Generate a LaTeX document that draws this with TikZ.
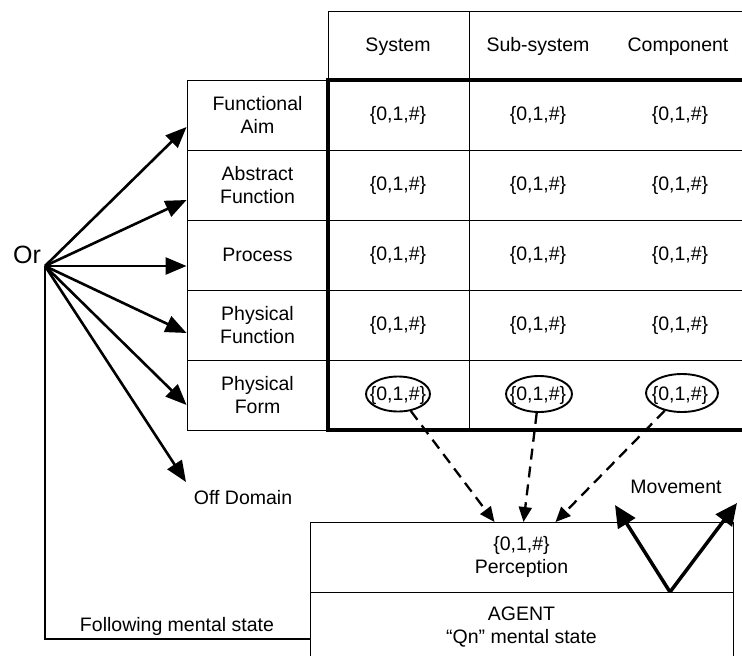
\documentclass[tikz,border=0pt]{standalone}
\usepackage{fontspec}
\setmainfont{Liberation Sans}
\usetikzlibrary{arrows.meta,shapes.geometric,calc}
\begin{document}
\begin{tikzpicture}[x=1pt,y=-1pt,
  every node/.style={font=\fontsize{19.5}{23}\selectfont, inner sep=0pt, align=center},
  headtext/.style={text height=14pt, text depth=4pt},
  gridline/.style={line width=0.9pt},
  thickborder/.style={line width=3.8pt},
  rowlabel/.style={draw, line width=0.9pt, minimum width=141pt, minimum height=70pt},
  fan/.style={line width=2.6pt, -{Triangle[length=21pt,width=17pt]}},
  percarrow/.style={line width=2.3pt, dash pattern=on 11pt off 7pt, -{Triangle[length=15pt,width=13pt]}},
  movearrow/.style={line width=3.5pt, -{Triangle[length=22pt,width=20pt]}},
  oval/.style={draw, ellipse, line width=1.9pt, inner sep=0pt}
]
\useasboundingbox (0,0) rectangle (742,656);

% header
\draw[gridline] (328,80) -- (328,11) -- (742,11);
\draw[gridline] (469,11) -- (469,430);
\foreach \yy in {150,220,290,360} \draw[gridline] (328,\yy) -- (742,\yy);
\node[headtext] (hsys) at (398,46) {System};
\node[headtext] (hsub) at (538,46) {Sub-system};
\node[headtext] (hcomp) at (678,46) {Component};

% row labels
\node[rowlabel] (l1) at (257.5,115) {Functional\\Aim};
\node[rowlabel] (l2) at (257.5,185) {Abstract\\Function};
\node[rowlabel] (l3) at (257.5,255) {Process};
\node[rowlabel] (l4) at (257.5,325) {Physical\\Function};
\node[rowlabel] (l5) at (257.5,395) {Physical\\Form};

% thick border
\draw[thickborder] (742,80) -- (328,80) -- (328,430) -- (742,430);

% values
\foreach \r/\yy in {1/115,2/185,3/255,4/325}{
  \node (v\r a) at (398,\yy) {\{0,1,\#\}};
  \node (v\r b) at (538,\yy) {\{0,1,\#\}};
  \node (v\r c) at (680,\yy) {\{0,1,\#\}};
}
\node (v5a) at (398,395) {\{0,1,\#\}};
\node (v5b) at (538,395) {\{0,1,\#\}};
\node (v5c) at (680,395) {\{0,1,\#\}};
\node[oval, minimum width=64pt, minimum height=35pt] (e1) at (398,394) {};
\node[oval, minimum width=66pt, minimum height=36pt] (e2) at (539,394) {};
\node[oval, minimum width=72pt, minimum height=38pt] (e3) at (682,393) {};

% Or fan
\node[font=\fontsize{25}{28}\selectfont] (or) at (27,255) {Or};
\coordinate (orig) at (45,266);
\draw[fan] (orig) -- ([yshift=-12pt]l1.west);
\draw[fan] (orig) -- ([yshift=-15pt]l2.west);
\draw[fan] (orig) -- ([yshift=-11pt]l3.west);
\draw[fan] (orig) -- ([yshift=-8pt]l4.west);
\draw[fan] (orig) -- ([yshift=-10pt]l5.west);
\node (off) at (243,498) {Off Domain};
\coordinate (offtip) at (186,482);
\draw[fan] (orig) -- (offtip);

% agent box
\node[draw, line width=0.9pt, outer sep=0pt, minimum width=423pt, minimum height=70pt] (perc) at (521.5,557) {\{0,1,\#\}\\Perception};
\node (agent) at (521.5,627) {AGENT\\“Qn” mental state};
\draw[gridline] (perc.south west) -- (310,656);
\draw[gridline] (perc.south east) -- (733,656);

% following mental state
\coordinate (fm) at (310,639);
\draw[line width=2.5pt] (orig) |- (fm);
\node (fol) at (177,626) {Following mental state};

% perception arrows
\draw[percarrow] (e1) -- ([xshift=-27pt]perc.north);
\draw[percarrow] (e2) -- ([xshift=2pt]perc.north);
\draw[percarrow] (e3) -- ([xshift=34pt]perc.north);

% movement
\coordinate (vb) at (670,592);
\coordinate (mvl) at (615,505);
\coordinate (mvr) at (737,503);
\draw[movearrow] (vb) -- (mvl);
\draw[movearrow] (vb) -- (mvr);
\node (mov) at (676,487) {Movement};
\end{tikzpicture}
\end{document}
